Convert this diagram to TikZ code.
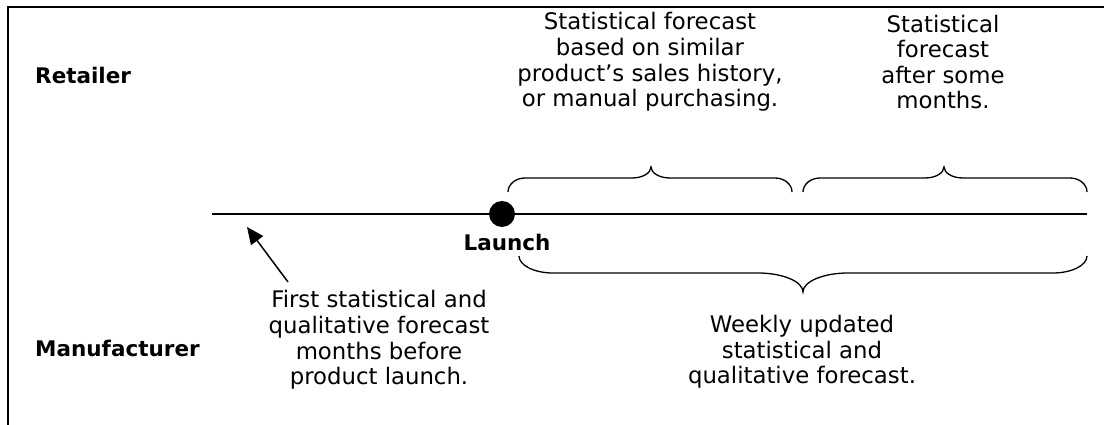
\documentclass[tikz,border=0pt]{standalone}
\usepackage{fontspec}
\setmainfont{DejaVu Sans}
\usetikzlibrary{arrows.meta}

% curly brace: xl, xr, xtip, yend, yflat, ytip, rend, rtip
\newcommand{\tlbrace}[8]{%
  \draw[bracepath] (#1,#4)
    .. controls (#1,{#4+0.55*(#5-#4)}) and ({#1+0.45*#7},#5) .. ({#1+#7},#5)
    -- ({#3-#8},#5)
    .. controls ({#3-0.45*#8},#5) and (#3,{#6+0.55*(#5-#6)}) .. (#3,#6)
    .. controls (#3,{#6+0.55*(#5-#6)}) and ({#3+0.45*#8},#5) .. ({#3+#8},#5)
    -- ({#2-#7},#5)
    .. controls ({#2-0.45*#7},#5) and (#2,{#4+0.55*(#5-#4)}) .. (#2,#4);}

\tikzset{
  frameline/.style={line width=1.5pt, black},
  timeline/.style={line width=1.5pt, black},
  bracepath/.style={line width=1.3pt, black},
  txt/.style={align=center, inner sep=0pt, font=\fontsize{22.8}{25.6}\selectfont},
  rolelabel/.style={anchor=west, inner sep=0pt, font=\fontsize{21.5}{26.5}\selectfont\bfseries},
  pointer/.style={line width=1.5pt, -{Triangle[length=17pt,width=15pt]}},
}

\begin{document}
\begin{tikzpicture}[x=1pt,y=-1pt]
  \useasboundingbox (0,0) rectangle (1106,425);

  % open frame: left and top edges
  \draw[frameline] (8,425) -- (8,7) -- (1104,7);

  % role labels
  \node[rolelabel] (retailer) at (35,75) {Retailer};
  \node[rolelabel] (manufacturer) at (35,348) {Manufacturer};

  % time axis with the launch point
  \coordinate (tlstart) at (212,214);
  \coordinate (tlend) at (1087,214);
  \draw[timeline] (tlstart) -- (tlend);
  \node[circle, fill=black, inner sep=0pt, minimum size=26pt] (launchdot) at (502,214) {};
  \node[inner sep=0pt, font=\fontsize{21.5}{26.5}\selectfont\bfseries] (launch) at (507,242) {Launch};

  % retailer-side braces
  \tlbrace{508}{792}{651}{192}{178}{167}{17}{19}
  \tlbrace{803}{1087}{944}{192}{178}{167}{17}{19}

  % manufacturer-side brace
  \tlbrace{519}{1087}{803}{256}{273}{292}{34}{45}

  % retailer texts
  \node[txt] (retailA) at (650,62) {Statistical forecast\\based on similar\\product’s sales history,\\or manual purchasing.};
  \node[txt] (retailB) at (943,62) {Statistical\\forecast\\after some\\months.};

  % manufacturer texts
  \node[txt] (manuA) at (379,340) {First statistical and\\qualitative forecast\\months before\\product launch.};
  \node[txt] (manuB) at (802,352) {Weekly updated\\statistical and\\qualitative forecast.};

  % pointer to the early forecast
  \coordinate (ptail) at (288,282);
  \coordinate (ptip) at (247,227);
  \draw[pointer] (ptail) -- (ptip);
\end{tikzpicture}
\end{document}
